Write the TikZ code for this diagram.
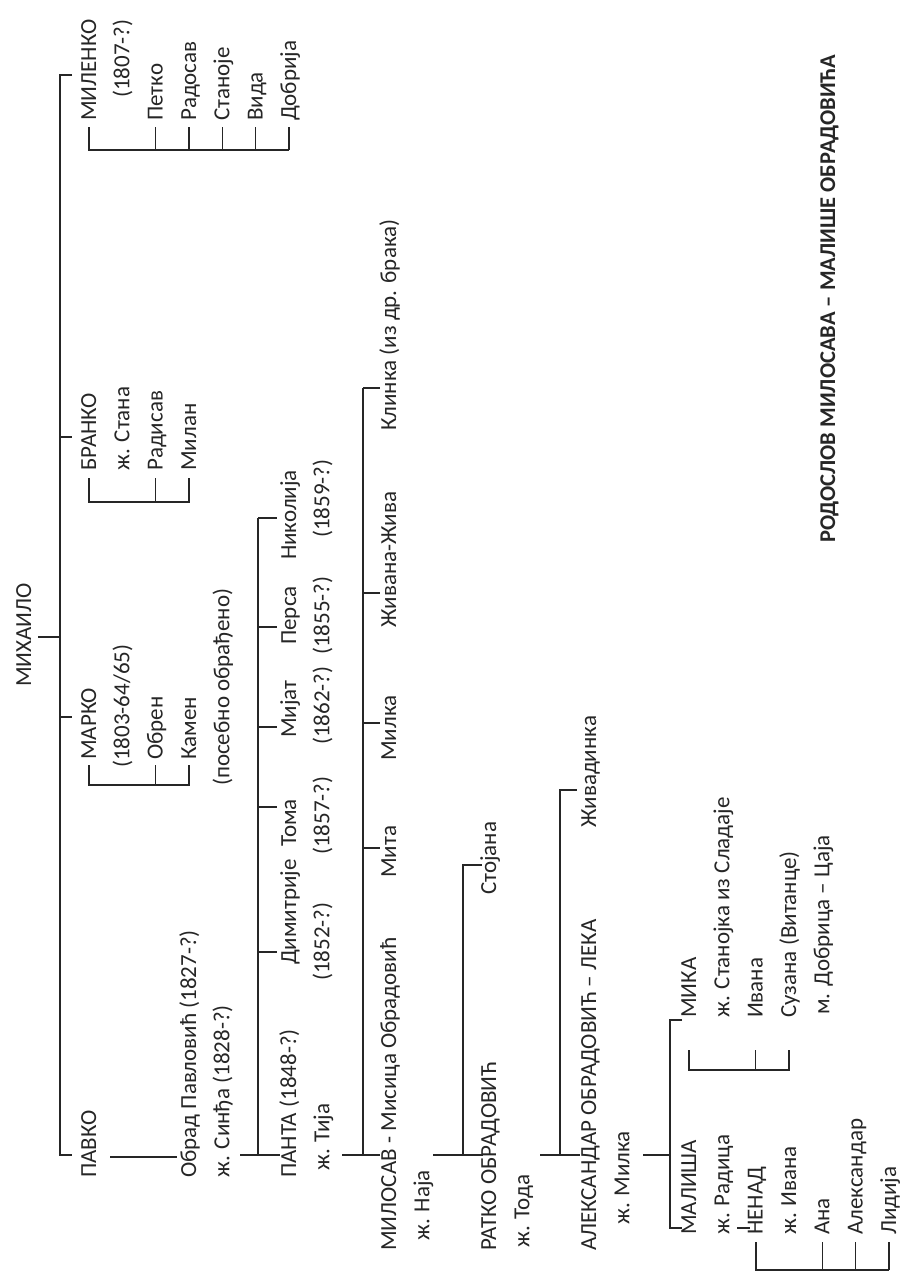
\documentclass[tikz,border=0pt]{standalone}
\usepackage{fontspec}
\setmainfont{Carlito}
\begin{document}
\begin{tikzpicture}[x=1pt,y=-1pt,
  t/.style={anchor=base west, rotate=90, inner sep=0pt, font=\fontsize{23}{27}\selectfont, text=black!85},
  ttl/.style={t, font=\bfseries\fontsize{22.5}{26}\selectfont},
  ln/.style={line width=1.1pt, draw=black!85}]
\useasboundingbox[fill=white] (0,0) rectangle (905,1277);
% ---------- generation 0 ----------
\node[t] (mihailo) at (31,687) {МИХАИЛО};
\coordinate (mh1) at (38,637); \coordinate (mh2) at (60,637);
\coordinate (m1) at (72,75); \coordinate (m1a) at (60,75);
\coordinate (m4) at (72,1155); \coordinate (m4a) at (60,1155);
\draw[ln] (m1) -- (m1a) -- (m4a) -- (m4);
\draw[ln] (mh1) -- (mh2);
\draw[ln] (60,437) -- (72,437);
\draw[ln] (60,717) -- (72,717);
% ---------- MILENKO ----------
\node[t] (milenko) at (96,121) {МИЛЕНКО};
\node[t] (milenkod) at (129.3,98) {(1807-?)};
\node[t] (petko) at (162.7,121) {Петко};
\node[t] (radosav) at (196,121) {Радосав};
\node[t] (stanoje) at (229.3,121) {Станоје};
\node[t] (vida) at (262.7,121) {Вида};
\node[t] (dobrija) at (296,121) {Добрија};
\draw[ln] (89,127) -- (89,150) -- (289,150);
\foreach \xx in {155.7,189,222.3,255.7,289} \draw[ln] (\xx,150) -- (\xx,127);
% ---------- BRANKO ----------
\node[t] (branko) at (96,471) {БРАНКО};
\node[t] (stana) at (129.3,471) {ж. Стана};
\node[t] (radisav) at (162.7,471) {Радисав};
\node[t] (milan) at (196,471) {Милан};
\draw[ln] (89,478) -- (89,502) -- (189,502) -- (189,478);
\draw[ln] (155.7,502) -- (155.7,478);
% ---------- MARKO ----------
\node[t] (marko) at (96,760) {МАРКО};
\node[t] (markod) at (129.3,768) {(1803-64/65)};
\node[t] (obren) at (162.7,760) {Обрен};
\node[t] (kamen) at (196,760) {Камен};
\node[t] (posebno) at (229.3,786) {(посебно обрађено)};
\draw[ln] (89,765) -- (89,785) -- (189,785) -- (189,765);
\draw[ln] (155.7,785) -- (155.7,765);
% ---------- PAVKO ----------
\node[t] (pavko) at (96,1178) {ПАВКО};
\draw[ln] (110,1157) -- (177,1157);
\node[t] (obrad) at (196,1178) {Обрад Павловић (1827-?)};
\node[t] (sindja) at (229.3,1178) {ж. Синђа (1828-?)};
\draw[ln] (240,1155) -- (280,1155);
\draw[ln] (258,1155) -- (258,518);
\foreach \yy in {952,807,727,627,518} \draw[ln] (258,\yy) -- (277,\yy);
\node[t] (panta) at (296,1178) {ПАНТА (1848-?)};
\node[t] (tija) at (329.3,1171) {ж. Тија};
\node[t] (dimitrije) at (296,965) {Димитрије};
\node[t] (dimd) at (329.3,981) {(1852-?)};
\node[t] (toma) at (296,847) {Тома};
\node[t] (tomad) at (329.3,855) {(1857-?)};
\node[t] (mijat) at (296,738) {Мијат};
\node[t] (mijatd) at (329.3,745) {(1862-?)};
\node[t] (persa) at (296,645) {Перса};
\node[t] (persad) at (329.3,655) {(1855-?)};
\node[t] (nikolija) at (296,560) {Николија};
\node[t] (nikolijad) at (329.3,538) {(1859-?)};
% ---------- PANTA children ----------
\draw[ln] (342,1155) -- (380,1155);
\draw[ln] (363,1155) -- (363,388);
\foreach \yy in {848,723,593,388} \draw[ln] (363,\yy) -- (380,\yy);
\node[t] (milosav) at (396,1251) {МИЛОСАВ - Мисица Обрадовић};
\node[t] (mita) at (396,878) {Мита};
\node[t] (milka) at (396,761) {Милка};
\node[t] (zivana) at (396,628) {Живана-Жива};
\node[t] (klinka) at (396,431) {Клинка (из др. брака)};
% ---------- MILOSAV children ----------
\node[t] (naja) at (429.3,1241) {ж. Наја};
\draw[ln] (433,1155) -- (483,1155);
\draw[ln] (463,1155) -- (463,865) -- (482,865);
\node[t] (ratko) at (496,1251) {РАТКО ОБРАДОВИЋ};
\node[t] (stojana) at (496,895) {Стојана};
% ---------- RATKO children ----------
\node[t] (toda) at (529.3,1248) {ж. Тода};
\draw[ln] (540,1155) -- (580,1155);
\draw[ln] (560,1155) -- (560,790) -- (577,790);
\node[t] (aleksandar) at (596,1251) {АЛЕКСАНДАР ОБРАДОВИЋ – ЛЕКА};
\node[t] (zivadinka) at (596,828) {Живадинка};
% ---------- ALEKSANDAR children ----------
\node[t] (milka2) at (629.3,1225) {ж. Милка};
\draw[ln] (643,1155) -- (670,1155);
\draw[ln] (682,1020) -- (670,1020) -- (670,1228) -- (682,1228);
\node[t] (malisa) at (696,1235) {МАЛИША};
\node[t] (radica) at (729.3,1235) {ж. Радица};
\draw[ln] (737,1228) -- (750,1228);
\node[t] (nenad) at (762.7,1235) {НЕНАД};
\node[t] (ivana2) at (796,1235) {ж. Ивана};
\node[t] (ana) at (829.3,1235) {Ана};
\node[t] (aleks2) at (862.7,1235) {Александар};
\node[t] (lidija) at (896,1235) {Лидија};
\draw[ln] (756,1242) -- (756,1270) -- (889,1270);
\foreach \xx in {822.3,855.7,889} \draw[ln] (\xx,1270) -- (\xx,1242);
% ---------- MIKA ----------
\node[t] (mika) at (696,1018) {МИКА};
\node[t] (stanojka) at (729.3,1018) {ж. Станојка из Сладаје};
\node[t] (ivana) at (762.7,1018) {Ивана};
\node[t] (suzana) at (796,1018) {Сузана (Витанце)};
\node[t] (dobrica) at (829.3,1015) {м. Добрица – Цаја};
\draw[ln] (689,1050) -- (689,1070) -- (789,1070) -- (789,1050);
\draw[ln] (755.7,1070) -- (755.7,1050);
% ---------- title ----------
\node[ttl] (title) at (835,543) {РОДОСЛОВ МИЛОСАВА – МАЛИШЕ ОБРАДОВИЋА};
\end{tikzpicture}
\end{document}
